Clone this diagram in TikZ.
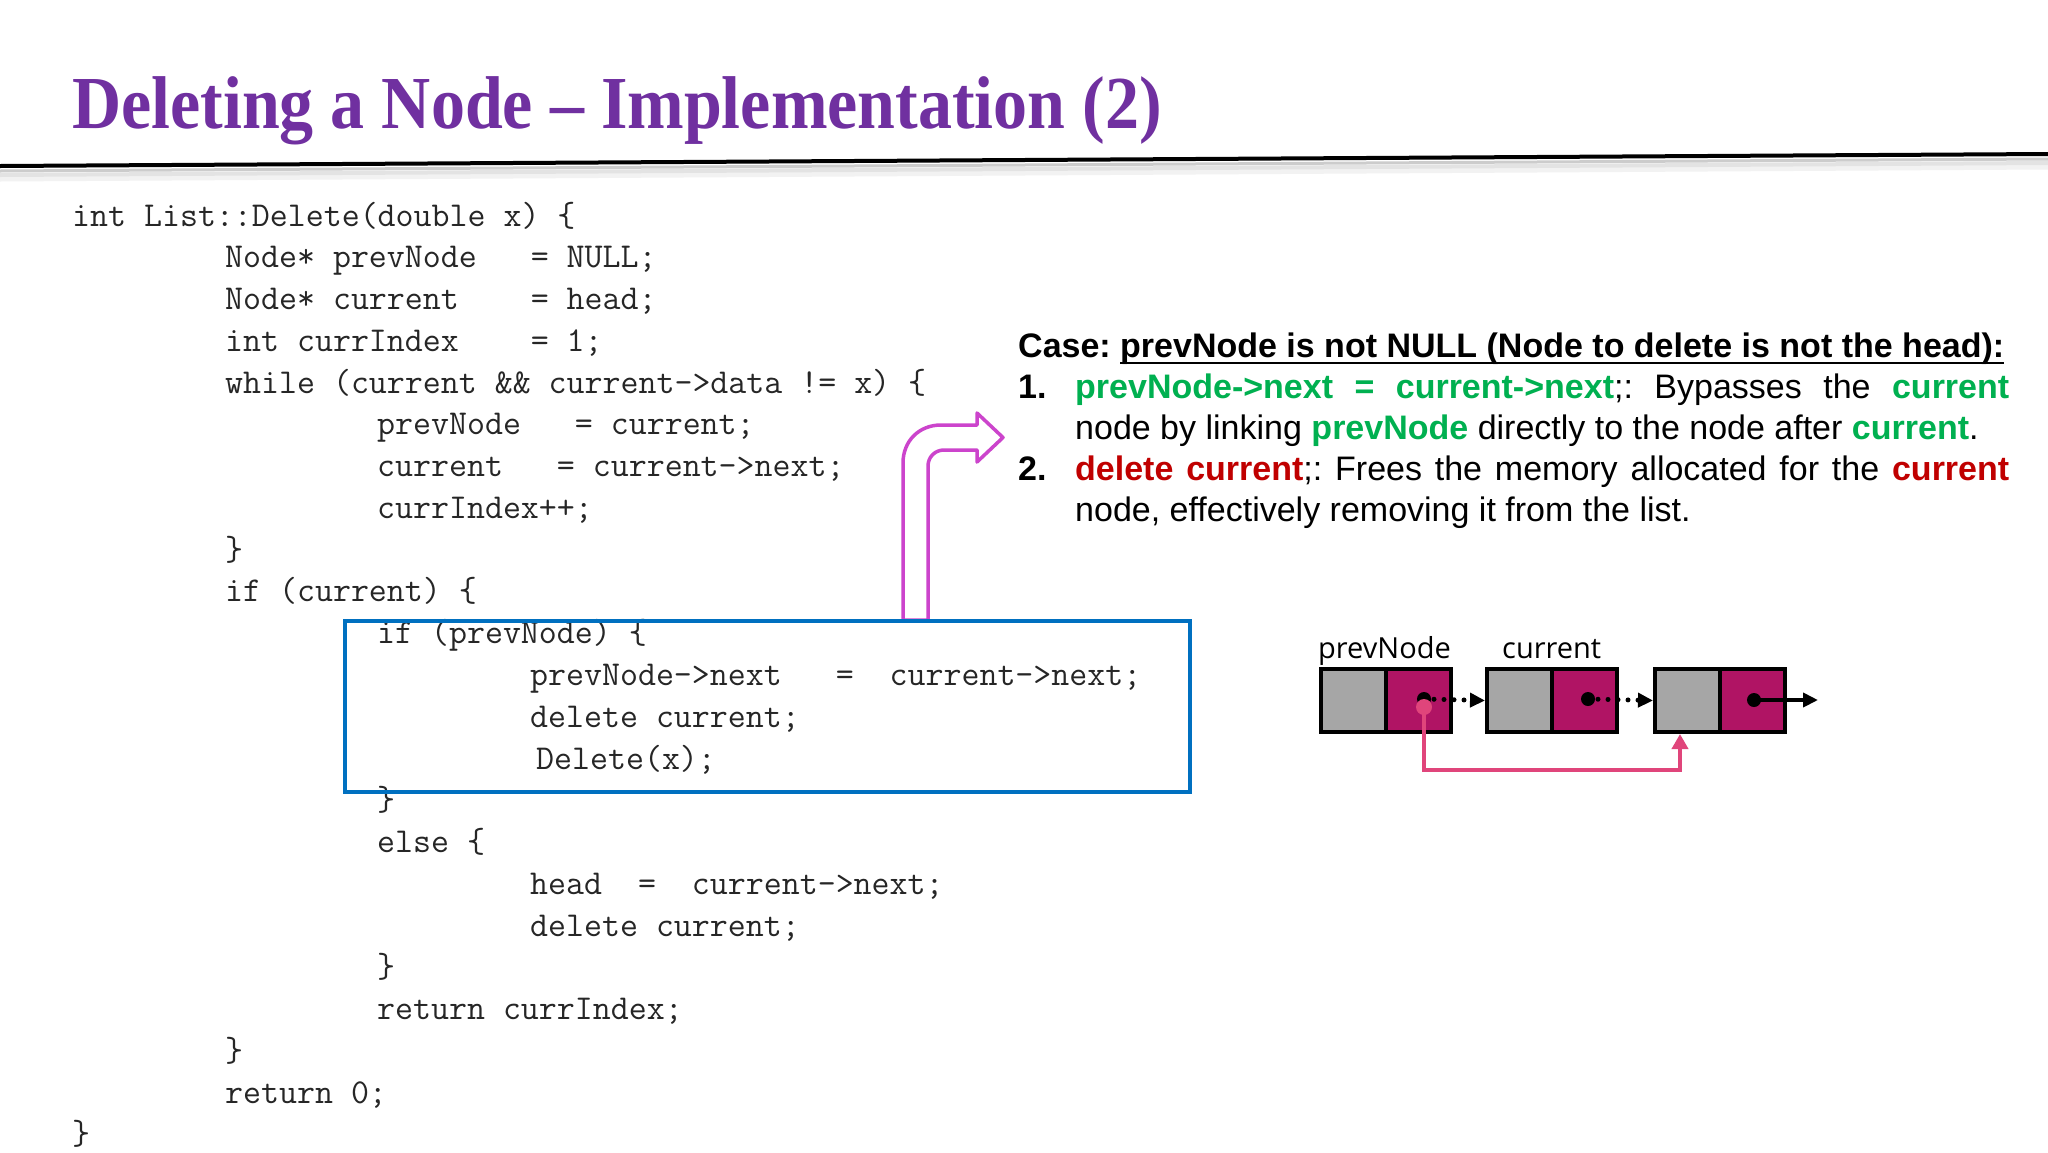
\documentclass[tikz,border=0pt]{standalone}
\usepackage{fontspec}
\usepackage{graphicx}
\setmainfont{Liberation Sans}
\newfontfamily\titlefont{Liberation Serif}
\newfontfamily\labelfont{Open Sans}
\usetikzlibrary{arrows.meta,calc}
\definecolor{titlepurple}{RGB}{112,48,160}
\definecolor{codeblue}{RGB}{0,112,192}
\definecolor{bendmag}{RGB}{204,68,204}
\definecolor{cgreen}{RGB}{0,176,80}
\definecolor{cred}{RGB}{192,0,0}
\definecolor{cellgray}{RGB}{166,166,166}
\definecolor{cellmag}{RGB}{176,20,100}
\definecolor{linkpink}{RGB}{224,69,123}
\begin{document}
\begin{tikzpicture}[x=1pt,y=-1pt,
  titletxt/.style={anchor=base west,inner sep=0pt,text=titlepurple,font=\titlefont\bfseries\fontsize{68}{80}\selectfont},
  codeline/.style={anchor=base west,inner sep=0pt,text=black!85,font=\ttfamily\fontsize{34.9}{40}\selectfont},
  txt/.style={anchor=base west,inner sep=0pt,font=\fontsize{34}{41}\selectfont\frenchspacing},
  lbl/.style={anchor=base west,inner sep=0pt,font=\labelfont\fontsize{29}{34}\selectfont},
  cellbox/.style={draw=black,line width=4pt,minimum width=65pt,minimum height=63pt,inner sep=0pt,outer sep=2pt},
  graycell/.style={cellbox,fill=cellgray},
  magcell/.style={cellbox,fill=cellmag},
  ptrdot/.style={circle,fill=black,inner sep=0pt,minimum size=14pt},
  dotlink/.style={line width=5pt,line cap=round,dash pattern=on 0pt off 10pt,-{Triangle[length=15pt,width=14pt]}},
  solidlink/.style={line width=4pt,-{Triangle[length=15pt,width=14pt]}},
  pinklink/.style={draw=linkpink,line width=4pt,-{Triangle[length=15pt,width=16pt]}},
]
\useasboundingbox[fill=white] (0,0) rectangle (2048,1152);

% title and rule
\node[titletxt] (title) at (72,128) {\scalebox{1}[1.1]{Deleting a Node – Implementation (2)}};
\draw[gray!10,line width=5pt] (0,179) -- (2048,167);
\draw[gray!22,line width=4pt] (0,175) -- (2048,163);
\draw[gray!40,line width=3pt] (0,171) -- (2048,159);
\draw[black,line width=4pt] (0,166) -- (2048,154);

% code
\node[codeline] (c0)  at (72,226)    {int~List::Delete(double~x)~\{};
\node[codeline] (c1)  at (225,267.8) {Node*~prevNode~~~=~NULL;};
\node[codeline] (c2)  at (225,309.5) {Node*~current~~~~=~head;};
\node[codeline] (c3)  at (225,351.3) {int~currIndex~~~~=~1;};
\node[codeline] (c4)  at (225,393.1) {while~(current~\&\&~current->data~!=~x)~\{};
\node[codeline] (c5)  at (377,434.9) {prevNode~~~=~current;};
\node[codeline] (c6)  at (377,476.6) {current~~~=~current->next;};
\node[codeline] (c7)  at (377,518.4) {currIndex++;};
\node[codeline] (c8)  at (225,560.2) {\}};
\node[codeline] (c9)  at (225,601.9) {if~(current)~\{};
\node[codeline] (c10) at (377,643.7) {if~(prevNode)~\{};
\node[codeline] (c11) at (530,685.5) {prevNode->next~~~=~~current->next;};
\node[codeline] (c12) at (530,727.2) {delete~current;};
\node[codeline] (c13) at (536,769.0) {Delete(x);};
\node[codeline] (c14) at (377,810.8) {\}};
\node[codeline] (c15) at (377,852.6) {else~\{};
\node[codeline] (c16) at (530,894.3) {head~~=~~current->next;};
\node[codeline] (c17) at (530,936.1) {delete~current;};
\node[codeline] (c18) at (377,977.9) {\}};
\node[codeline] (c19) at (377,1019.6) {return~currIndex;};
\node[codeline] (c20) at (225,1061.4) {\}};
\node[codeline] (c21) at (225,1103.2) {return~0;};
\node[codeline] (c22) at (72,1144.9) {\}};

% bent arrow
\draw[bendmag,line width=3.5pt,fill=white,line join=round]
  (903,620) -- (903,463) .. controls (903,441) and (919,425) .. (941,425)
  -- (977,425) -- (977,413) -- (1003,437.5) -- (977,462) -- (977,450)
  -- (944,450) .. controls (935,450) and (928,457) .. (928,466) -- (928,620) -- cycle;

% highlight box
\node[draw=codeblue,line width=4pt,minimum width=845pt,minimum height=171pt,inner sep=0pt,outer sep=0pt] (hlbox) at (767.5,706.5) {};

% case text
\node[txt] (caselbl) at (1018,357) {\bfseries Case:};
\node[txt] (casetxt) at (1120,357) {\bfseries prevNode is not NULL (Node to delete is not the head):};
\draw[line width=2.5pt] ($(casetxt.base west)+(0,6)$) -- ($(casetxt.base east)+(0,6)$);
\node[txt] (num1) at (1018,398) {\bfseries 1.};
\node[txt] (item1a) at (1075,398) {\hbox to 934pt{\textcolor{cgreen}{\bfseries prevNode->next = current->next};: Bypasses the \textcolor{cgreen}{\bfseries current}}};
\node[txt] (item1b) at (1075,439) {node by linking \textcolor{cgreen}{\bfseries prevNode} directly to the node after \textcolor{cgreen}{\bfseries current}.};
\node[txt] (num2) at (1018,480) {\bfseries 2.};
\node[txt] (item2a) at (1075,480) {\hbox to 934pt{\textcolor{cred}{\bfseries delete current};: Frees the memory allocated for the \textcolor{cred}{\bfseries current}}};
\node[txt] (item2b) at (1075,521) {node, effectively removing it from the list.};

% linked list
\node[lbl] (lprev) at (1318,658) {prevNode};
\node[lbl] (lcur) at (1502,658) {current};
\node[graycell] (n1d) at (1353.5,700.5) {};
\node[magcell]  (n1p) at (1418.5,700.5) {};
\node[graycell] (n2d) at (1519.5,700.5) {};
\node[magcell]  (n2p) at (1584.5,700.5) {};
\node[graycell] (n3d) at (1687.5,700.5) {};
\node[magcell]  (n3p) at (1752.5,700.5) {};
\node[ptrdot] (d1) at (1424,699) {};
\node[ptrdot] (d2) at (1588,699) {};
\node[ptrdot] (d3) at (1754,700) {};
\coordinate (tailend) at (1818,700);
\draw[dotlink] (d1.center) -- (n2d.west);
\draw[dotlink] (d2.center) -- (n3d.west);
\draw[solidlink] (d3.center) -- (tailend);
\coordinate (pinkend) at ([xshift=-7.5pt]n3d.south);
\draw[pinklink] (1424,707) -- (1424,770) -| (pinkend);
\node[circle,fill=linkpink,inner sep=0pt,minimum size=16pt] (p1) at (1424,707) {};
\end{tikzpicture}
\end{document}
